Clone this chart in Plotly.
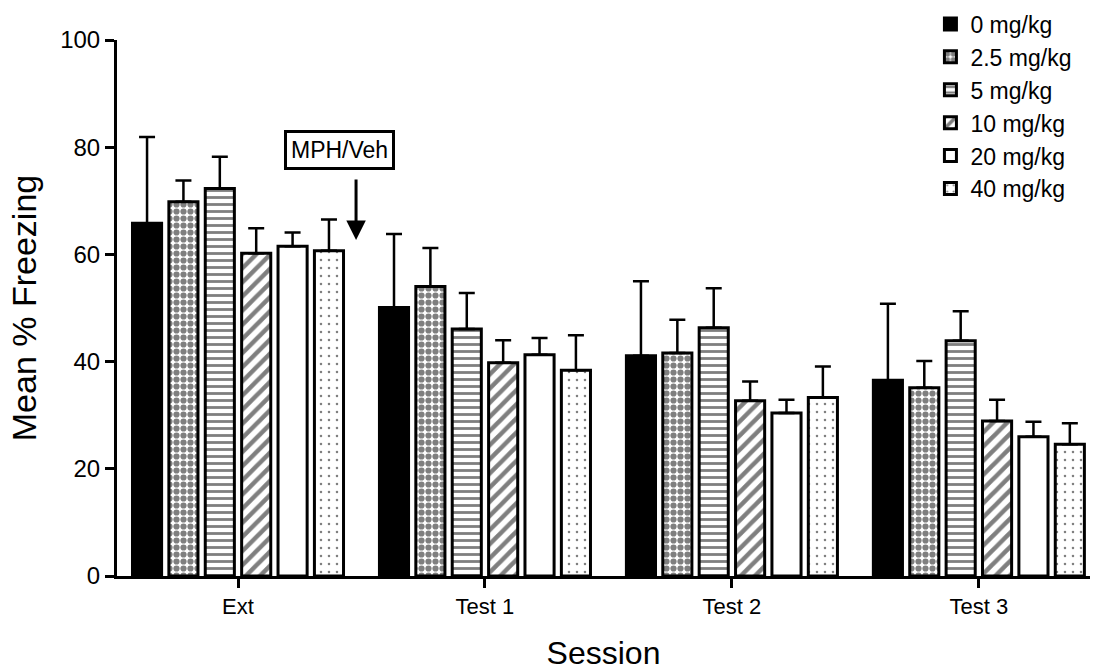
import plotly.graph_objects as go

# Sessions and dose groups
sessions = ["Ext", "Test 1", "Test 2", "Test 3"]
doses = ["0 mg/kg", "2.5 mg/kg", "5 mg/kg", "10 mg/kg", "20 mg/kg", "40 mg/kg"]

# Mean % freezing per dose group, one value per session
mean_0 = [65.8, 50.1, 41.1, 36.5]
mean_2_5 = [69.8, 54.0, 41.6, 35.1]
mean_5 = [72.3, 46.1, 46.3, 43.9]
mean_10 = [60.2, 39.8, 32.7, 28.9]
mean_20 = [61.5, 41.3, 30.4, 26.0]
mean_40 = [60.7, 38.4, 33.3, 24.6]

# Upper end of the SEM bar per dose group
upper_0 = [81.9, 63.8, 55.0, 50.8]
upper_2_5 = [73.8, 61.2, 47.8, 40.1]
upper_5 = [78.2, 52.8, 53.7, 49.4]
upper_10 = [64.9, 44.0, 36.3, 32.9]
upper_20 = [64.1, 44.4, 32.9, 28.8]
upper_40 = [66.5, 44.9, 39.1, 28.5]

y_ticks = [0, 20, 40, 60, 80, 100]

means = [mean_0, mean_2_5, mean_5, mean_10, mean_20, mean_40]
uppers = [upper_0, upper_2_5, upper_5, upper_10, upper_20, upper_40]

FONT = "Liberation Sans, Arial, sans-serif"

# Fill style for each dose group
styles = [
    dict(color="black"),
    dict(color="white", pattern=dict(shape=".", fgcolor="black", bgcolor="white",
                                     size=7, solidity=0.62, fillmode="overlay")),
    dict(color="white", pattern=dict(shape="-", fgcolor="black", bgcolor="white",
                                     size=7, solidity=0.4, fillmode="overlay")),
    dict(color="white", pattern=dict(shape="/", fgcolor="black", bgcolor="white",
                                     size=10, solidity=0.45, fillmode="overlay")),
    dict(color="white"),
    dict(color="white", pattern=dict(shape=".", fgcolor="black", bgcolor="white",
                                     size=8, solidity=0.08, fillmode="overlay")),
]

fig = go.Figure()
for name, m, u, st in zip(doses, means, uppers, styles):
    fig.add_trace(go.Bar(
        name=name,
        x=sessions,
        y=m,
        marker=dict(line=dict(color="black", width=3), **st),
        error_y=dict(type="data", symmetric=False,
                     array=[hi - v for hi, v in zip(u, m)],
                     arrayminus=[0] * len(m),
                     color="black", thickness=2.5, width=8),
    ))

fig.update_layout(
    width=1099, height=671,
    margin=dict(l=117, r=9, t=40, b=95, autoexpand=False),
    paper_bgcolor="white", plot_bgcolor="white",
    barmode="group", bargap=0.116, bargroupgap=0.2,
    font=dict(family=FONT, color="black"),
    showlegend=True,
    legend=dict(x=0.836, y=1.07, xanchor="left", yanchor="top",
                font=dict(size=23, family=FONT), bgcolor="rgba(0,0,0,0)",
                tracegroupgap=0),
)

fig.update_xaxes(
    type="category", range=[-0.49, 3.45], automargin=False,
    showline=True, linecolor="black", linewidth=3,
    ticks="outside", ticklen=9, tickwidth=3, tickcolor="black",
    tickfont=dict(size=22), showgrid=False, zeroline=False,
    title=dict(text="Session", font=dict(size=32), standoff=35),
)
fig.update_yaxes(
    range=[0, 100], tickvals=y_ticks, automargin=False,
    showline=True, linecolor="black", linewidth=3,
    ticks="outside", ticklen=9, tickwidth=3, tickcolor="black",
    tickfont=dict(size=24), showgrid=False, zeroline=False,
    title=dict(text="Mean % Freezing", font=dict(size=34), standoff=14),
)

# Drug/vehicle injection marker between extinction and Test 1
fig.add_annotation(
    x=0.41, y=79.5, xref="x", yref="y", text="MPH/Veh", showarrow=False,
    font=dict(size=23, family=FONT, color="black"),
    bordercolor="black", borderwidth=3, borderpad=4, bgcolor="white",
)
fig.add_annotation(
    x=0.478, y=62.7, xref="x", yref="y", text="", showarrow=True,
    ax=0, ay=-62, arrowhead=2, arrowsize=1.3, arrowwidth=3, arrowcolor="black",
    standoff=0,
)

fig.write_html("out.html")
